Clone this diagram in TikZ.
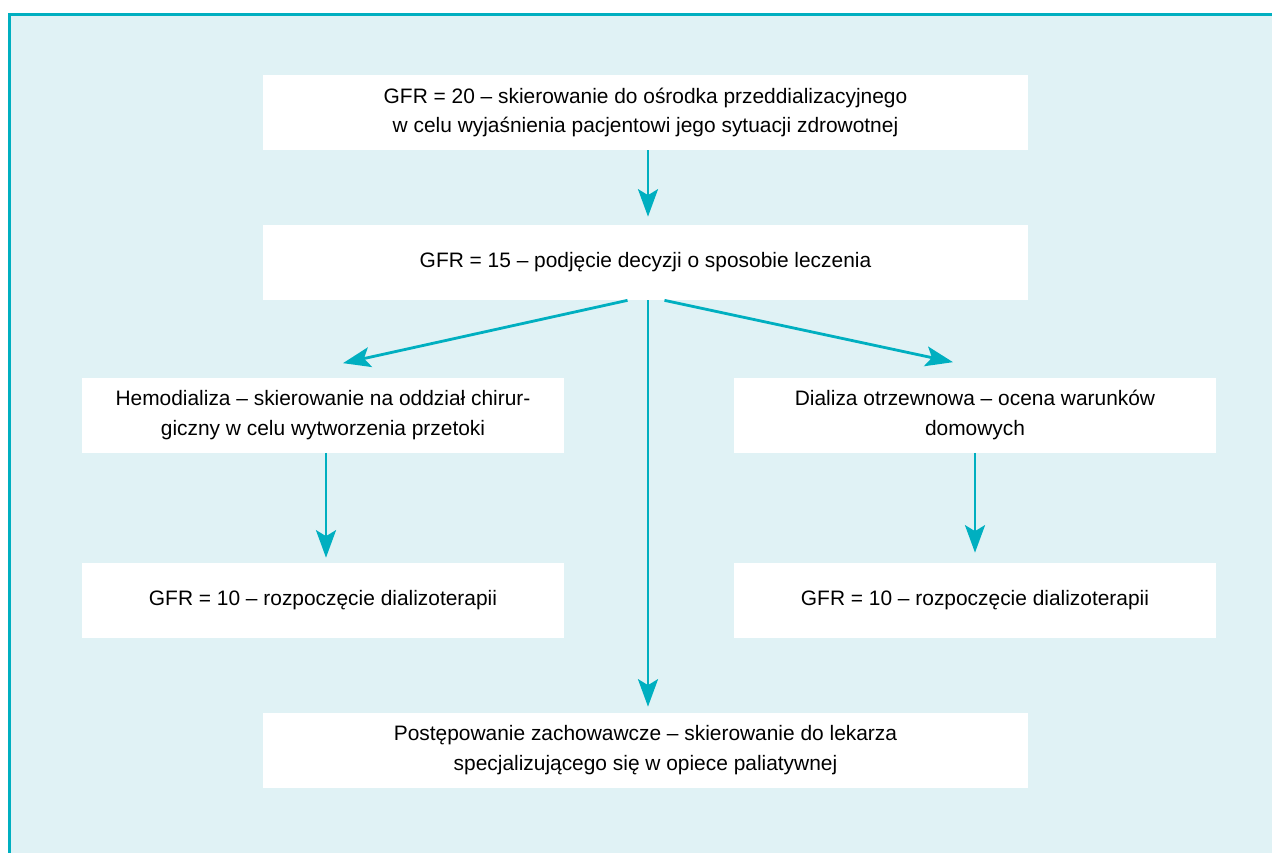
\documentclass[tikz,border=0pt]{standalone}
\usepackage{fontspec}
\setmainfont{Liberation Sans}
\usetikzlibrary{arrows.meta, positioning, calc}
\definecolor{tealline}{HTML}{00AFC0}
\definecolor{tealfill}{HTML}{E0F2F5}

\begin{document}
\begin{tikzpicture}
  [
    x=0.02cm, y=-0.02cm,
    Box/.style={fill=white, minimum height=1.5cm, inner sep=0pt, align=center, font=\fontsize{11.9}{17}\selectfont},
    Wide/.style={Box, minimum width=15.3cm},
    Half/.style={Box, minimum width=9.65cm},
    Flow/.style={draw=tealline, line width=1.6pt, -{Stealth[length=5.5mm, width=4mm, inset=1.2mm]}}
  ]
  % Frame
  \useasboundingbox (0, 0) rectangle (1272, 853);
  \fill[tealline] (8, 13) rectangle (1272, 853);
  \fill[tealfill] (11, 16) rectangle (1272, 853);

  % Nodes
  \node[Wide] (gfr20) at(645.5, 112.5) {GFR = 20 – skierowanie do ośrodka przeddializacyjnego\\ w celu wyjaśnienia pacjentowi jego sytuacji zdrowotnej};
  \node[Wide] (gfr15) at(645.5, 262.5) {GFR = 15 – podjęcie decyzji o sposobie leczenia};
  \node[Half] (hemo) at(323, 415) {Hemodializa – skierowanie na oddział chirur-\\giczny w celu wytworzenia przetoki};
  \node[Half] (dializa) at(975, 415) {Dializa otrzewnowa – ocena warunków\\domowych};
  \node[Half] (hemo10) at(323, 600.5) {GFR = 10 – rozpoczęcie dializoterapii};
  \node[Half] (dializa10) at(975, 600.5) {GFR = 10 – rozpoczęcie dializoterapii};
  \node[Wide] (paliat) at(645.5, 750.5) {Postępowanie zachowawcze – skierowanie do lekarza\\ specjalizującego się w opiece paliatywnej};

  % Arrows
  \draw[Flow] ($(gfr20.south)+(2.5, 0)$) -- ($(gfr15.north)+(2.5, -8)$);
  \draw[Flow] ($(gfr15.south)+(-18, 0)$) -- ($(hemo.north)+(20, -14)$);
  \draw[Flow] ($(gfr15.south)+(19, 0)$) -- ($(dializa.north)+(-22, -15)$);
  \draw[Flow] ($(gfr15.south)+(2.5, 0)$) -- ($(paliat.north)+(2.5, -6)$);
  \draw[Flow] ($(hemo.south)+(3, 0)$) -- ($(hemo10.north)+(3, -5)$);
  \draw[Flow] (dializa.south) -- ($(dializa10.north)+(0, -10)$);
\end{tikzpicture}
\end{document}
